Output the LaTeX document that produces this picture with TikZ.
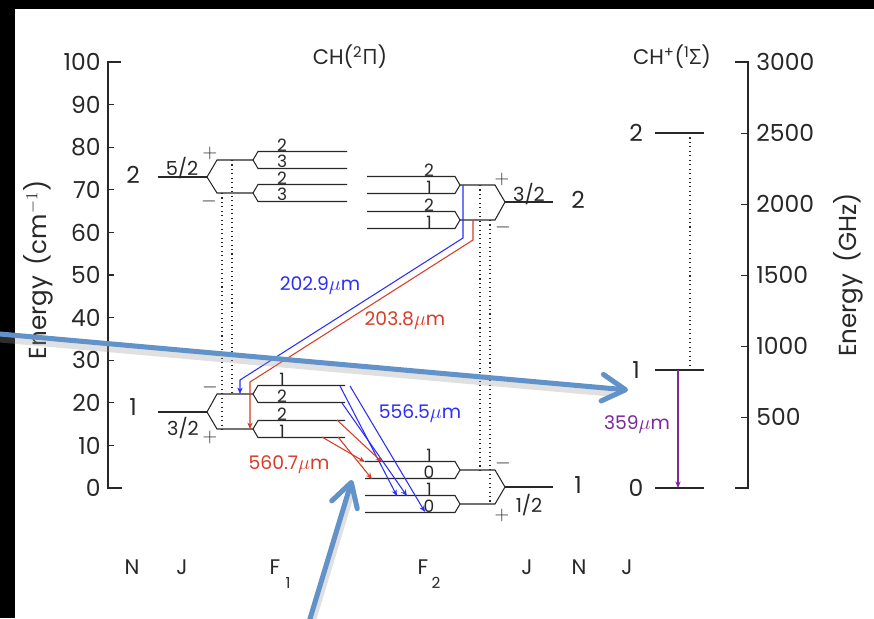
\documentclass[tikz,border=0pt]{standalone}
\usepackage{fontspec}
\setmainfont{Poppins}
\newfontfamily\grk{Open Sans}
\usetikzlibrary{arrows.meta}

\definecolor{ink}{RGB}{40,40,40}
\definecolor{trblue}{RGB}{45,45,250}
\definecolor{trred}{RGB}{215,60,40}
\definecolor{trpurple}{RGB}{125,40,155}
\definecolor{callout}{RGB}{97,146,202}

\newcommand{\pxfont}[1]{\fontsize{#1}{#1}\selectfont}

\tikzset{
  lvl/.style={draw=ink, line width=0.9pt},
  axis/.style={draw=ink, line width=0.9pt},
  link/.style={draw=ink, line width=0.9pt, dash pattern=on 0.9pt off 2.9pt},
  num/.style={text=ink, font=\pxfont{20}, inner sep=1pt},
  hf/.style={text=ink, font=\pxfont{14.5}, inner sep=0.2pt, anchor=south},
  jlab/.style={text=ink, font=\pxfont{16.5}, inner sep=0pt},
  sign/.style={text=ink, font=\pxfont{17}, inner sep=0pt},
  wave/.style={font=\pxfont{16}, inner sep=0pt},
  tr/.style={line width=0.9pt, -{Stealth[length=5.5pt,width=4.5pt]}},
  pointer/.style={draw=callout, line width=4.3pt, line cap=round,
    -{Straight Barb[length=7mm,width=8mm,round]}},
  pointershade/.style={draw=black!40, opacity=0.3, line width=6pt, line cap=round},
}

\begin{document}
\begin{tikzpicture}[x=0.03cm, y=-0.03cm]
  \useasboundingbox (0,0) rectangle (874,618);
  \fill[white] (0,0) rectangle (874,618);
  \fill[black] (0,0) rectangle (874,9);
  \fill[black] (0,0) rectangle (15,618);

  % energy axis, cm^-1
  \draw[axis] (121,62) -- (108,62) -- (108,488) -- (122,488);
  \foreach \v [evaluate=\v as \yy using {488-4.26*\v}] in {0,10,...,100} {
    \node[num, anchor=east] (cm\v) at (102,\yy) {\v};
  }
  \foreach \v [evaluate=\v as \yy using {488-4.26*\v}] in {10,20,...,90}
    \draw[axis] (108,\yy) -- (114,\yy);
  \node[num, font=\pxfont{21}, rotate=90] (ylabA) at (38,270) {Energy\, (cm$^{-1}$)};

  % energy axis, GHz
  \draw[axis] (735,62) -- (748,62) -- (748,488) -- (735,488);
  \foreach \g [evaluate=\g as \yy using {488-0.1419*\g}] in {500,1000,...,3000} {
    \node[num, anchor=west] (ghz\g) at (755,\yy) {\g};
  }
  \foreach \g [evaluate=\g as \yy using {488-0.1419*\g}] in {500,1000,...,2500}
    \draw[axis] (748,\yy) -- (741,\yy);
  \node[num, font=\pxfont{21}, rotate=90] (ylabB) at (848,275) {Energy\, (GHz)};

  % titles
  \node[num, font=\pxfont{18}] (titleA) at (350,57) {CH(\textsuperscript{2}{\grk Π})};
  \node[num, font=\pxfont{18}] (titleB) at (672,57) {CH\textsuperscript{+}(\textsuperscript{1}{\grk Σ})};

  % F1 ladders: N=2 J=5/2, N=1 J=3/2
  \foreach \yb/\ya/\yc/\xe in {177/160/193/347, 412/394/429/345} {
    \draw[lvl] (158,\yb) -- (207,\yb);
    \draw[lvl] (253,\ya) -- (217,\ya) -- (207,\yb) -- (217,\yc) -- (253,\yc);
    \foreach \yy in {\ya,\yc}
      \draw[lvl] (\xe,\yy-8.5) -- (258,\yy-8.5) -- (253,\yy) -- (258,\yy+8.5) -- (\xe,\yy+8.5);
  }
  % F2 ladders: N=2 J=3/2, N=1 J=1/2
  \foreach \yb/\ya/\yc/\xe in {202/185/220/367, 487/470/504/365} {
    \draw[lvl] (553,\yb) -- (505,\yb);
    \draw[lvl] (460,\ya) -- (495,\ya) -- (505,\yb) -- (495,\yc) -- (460,\yc);
    \foreach \yy in {\ya,\yc}
      \draw[lvl] (\xe,\yy-8.5) -- (455,\yy-8.5) -- (460,\yy) -- (455,\yy+8.5) -- (\xe,\yy+8.5);
  }

  % hyperfine F labels
  \foreach \n/\x/\y/\txt in {a/282/151.5/2, b/282/168.5/3, c/282/184.5/2, d/282/201.5/3,
      e/282/385.5/1, f/282/402.5/2, g/282/420.5/2, h/282/437.5/1,
      i/429/176.5/2, j/429/193.5/1, k/429/211.5/2, l/429/228.5/1,
      m/429/461.5/1, n/429/478.5/0, o/429/495.5/1, p/429/512.5/0}
    \node[hf] (hf\n) at (\x,\y) {\txt};

  % N and J labels
  \node[num] (nA) at (133,175) {2};
  \node[num] (nB) at (133,407) {1};
  \node[num] (nC) at (578,200) {2};
  \node[num] (nD) at (578,485) {1};
  \node[jlab] (jA) at (182,168) {5/2};
  \node[jlab] (jB) at (183,428) {3/2};
  \node[jlab] (jC) at (529,194) {3/2};
  \node[jlab] (jD) at (529,505) {1/2};

  % parity
  \foreach \n/\x/\y/\s in {a/210/153/+, b/209/201/-, c/210/387/-, d/210/437/+,
      e/502/179/+, f/503/227/-, g/503/463/-, h/502/515/+}
    \node[sign] (par\n) at (\x,\y) {$\s$};

  % dipole links
  \draw[link] (232,160) -- (232,394);
  \draw[link] (222,193) -- (222,429);
  \draw[link] (480,185) -- (480,470);
  \draw[link] (490,220) -- (490,504);
  \draw[link] (690,133) -- (690,370);

  % CH+ rotational levels
  \foreach \v/\yy in {0/488, 1/370, 2/133} {
    \draw[lvl] (655,\yy) -- (704,\yy);
    \node[num] (rot\v) at (636,\yy) {\v};
  }

  % transitions
  \coordinate (bA1) at (463,185); \coordinate (bA2) at (463,238);
  \coordinate (bA3) at (240,380); \coordinate (bA4) at (240,394);
  \coordinate (rA1) at (473,220); \coordinate (rA2) at (473,240);
  \coordinate (rA3) at (250,382); \coordinate (rA4) at (250,429);
  \draw[tr, trblue] (bA1) -- (bA2) -- (bA3) -- (bA4);
  \draw[tr, trred] (rA1) -- (rA2) -- (rA3) -- (rA4);

  \coordinate (bB1) at (340,386); \coordinate (bB2) at (397,496);
  \coordinate (bC1) at (342,403); \coordinate (bC2) at (407,496);
  \coordinate (bD1) at (350,386); \coordinate (bD2) at (425,512);
  \draw[tr, trblue] (bB1) -- (bB2);
  \draw[tr, trblue] (bC1) -- (bC2);
  \draw[tr, trblue] (bD1) -- (bD2);

  \coordinate (rB1) at (337,420); \coordinate (rB2) at (382,462);
  \coordinate (rC1) at (322,437); \coordinate (rC2) at (365,462);
  \coordinate (rD1) at (338,437); \coordinate (rD2) at (372,479);
  \draw[tr, trred] (rB1) -- (rB2);
  \draw[tr, trred] (rC1) -- (rC2);
  \draw[tr, trred] (rD1) -- (rD2);

  \coordinate (pA1) at (678,370); \coordinate (pA2) at (678,488);
  \draw[tr, trpurple] (pA1) -- (pA2);

  \node[wave, text=trblue] (wA) at (320,286) {202.9$\mu$m};
  \node[wave, text=trred] (wB) at (405,321) {203.8$\mu$m};
  \node[wave, text=trblue] (wC) at (420,414) {556.5$\mu$m};
  \node[wave, text=trred] (wD) at (289,465) {560.7$\mu$m};
  \node[wave, text=trpurple] (wE) at (637,425) {359$\mu$m};

  % quantum number row
  \foreach \n/\x/\txt in {a/132/N, b/182/J, e/527/J, f/579/N, g/627/J}
    \node[num, font=\pxfont{18}] (qn\n) at (\x,567) {\txt};
  \node[num, font=\pxfont{18}] (qnc) at (275,567) {F};
  \node[num, font=\pxfont{13}] (qncs) at (288,583) {1};
  \node[num, font=\pxfont{18}] (qnd) at (423,567) {F};
  \node[num, font=\pxfont{13}] (qnds) at (436,583) {2};

  % callout arrows
  \coordinate (ptrA1) at (0,334); \coordinate (ptrA2) at (628,390);
  \coordinate (ptrB1) at (309,622); \coordinate (ptrB2) at (352,480);
  \draw[pointershade] (0,339) -- (610,393);
  \draw[pointershade] (312,622) -- (352,490);
  \draw[pointer] (ptrA1) -- (ptrA2);
  \draw[pointer] (ptrB1) -- (ptrB2);
\end{tikzpicture}
\end{document}
